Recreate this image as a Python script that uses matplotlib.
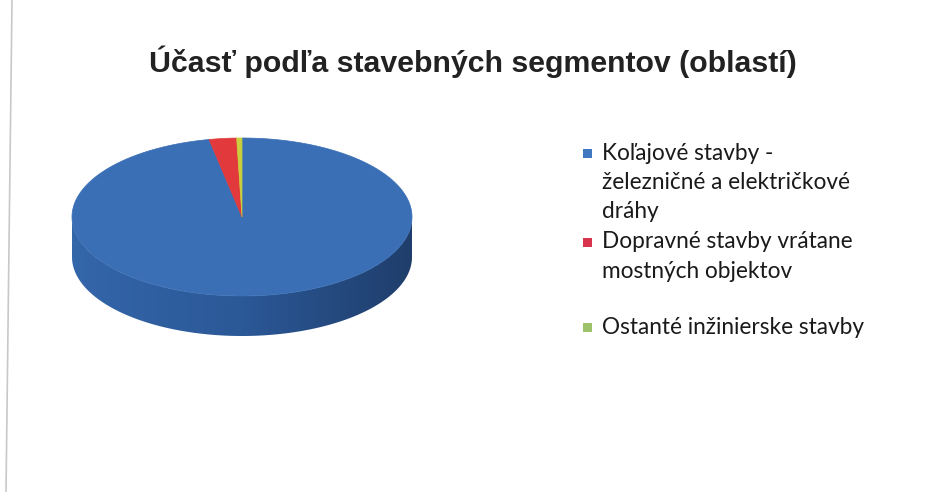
import numpy as np
import matplotlib
matplotlib.use("Agg")
import matplotlib.pyplot as plt
from matplotlib.patches import Polygon, Rectangle
from matplotlib.colors import LinearSegmentedColormap

# podiel podľa segmentov (%)
segments = ["Koľajové stavby -\nželezničné a električkové\ndráhy",
            "Dopravné stavby vrátane\nmostných objektov",
            "Ostanté inžinierske stavby"]
shares = [96.9, 2.6, 0.5]
top_colors = ["#3a6fb6", "#e23a3c", "#c9cf3c"]
legend_colors = ["#3f77c0", "#d8344e", "#9dc26a"]
title = "Účasť podľa stavebných segmentov (oblastí)"

W, H = 942, 492
fig = plt.figure(figsize=(W / 100, H / 100), dpi=100)
ax = fig.add_axes([0, 0, 1, 1])
ax.set_xlim(0, W)
ax.set_ylim(H, 0)
ax.axis("off")

# okraj naskenovanej stránky
ax.plot([12, 6], [0, H], color="#c8c8c8", lw=1.2)

cx, cy, a, b, depth = 242, 217, 170, 79, 40


def ell(t):
    t = np.radians(t)
    return cx + a * np.cos(t), cy - b * np.sin(t)


# bočná stena (predná polovica) s prechodom farby
ts = np.linspace(180, 360, 200)
xs, ys = ell(ts)
side = np.vstack([np.column_stack([xs, ys]),
                  np.column_stack([xs[::-1], ys[::-1] + depth])])
side_patch = Polygon(side, closed=True, facecolor="none", edgecolor="none")
ax.add_patch(side_patch)
cmap = LinearSegmentedColormap.from_list("side", ["#3466aa", "#2b5897", "#1f3e6b"])
grad = np.linspace(0, 1, 256)[None, :]
im = ax.imshow(grad, cmap=cmap, extent=(cx - a, cx + a, cy + b + depth, cy - 2),
               aspect="auto", interpolation="bilinear", zorder=1)
im.set_clip_path(side_patch)

# horná plocha
start = 90.0
for val, col in zip(shares, top_colors):
    span = val / sum(shares) * 360
    t = np.linspace(start, start - span, max(3, int(span * 2)))
    xs, ys = ell(t)
    pts = np.column_stack([np.r_[cx, xs], np.r_[cy, ys]])
    ax.add_patch(Polygon(pts, closed=True, facecolor=col, edgecolor=col, lw=0.5, zorder=2))
    start -= span

ax.set_xlim(0, W)
ax.set_ylim(H, 0)

# nadpis
ax.text(473, 72, title, ha="center", va="baseline", fontsize=21.8,
        fontweight="bold", color="#222222", family=["Liberation Sans", "DejaVu Sans"])

# legenda
line_h = 29.5
entry_y = [153, 242, 327]
for lab, col, y in zip(segments, legend_colors, entry_y):
    ax.add_patch(Rectangle((583, y - 4.5), 9, 9, facecolor=col, edgecolor="none"))
    for k, line in enumerate(lab.split("\n")):
        ax.text(602, y + k * line_h, line, ha="left", va="center", fontsize=16.3,
                color="#1a1a1a", family=["Lato", "DejaVu Sans"])

fig.savefig("out.png", dpi=100, facecolor="white")
